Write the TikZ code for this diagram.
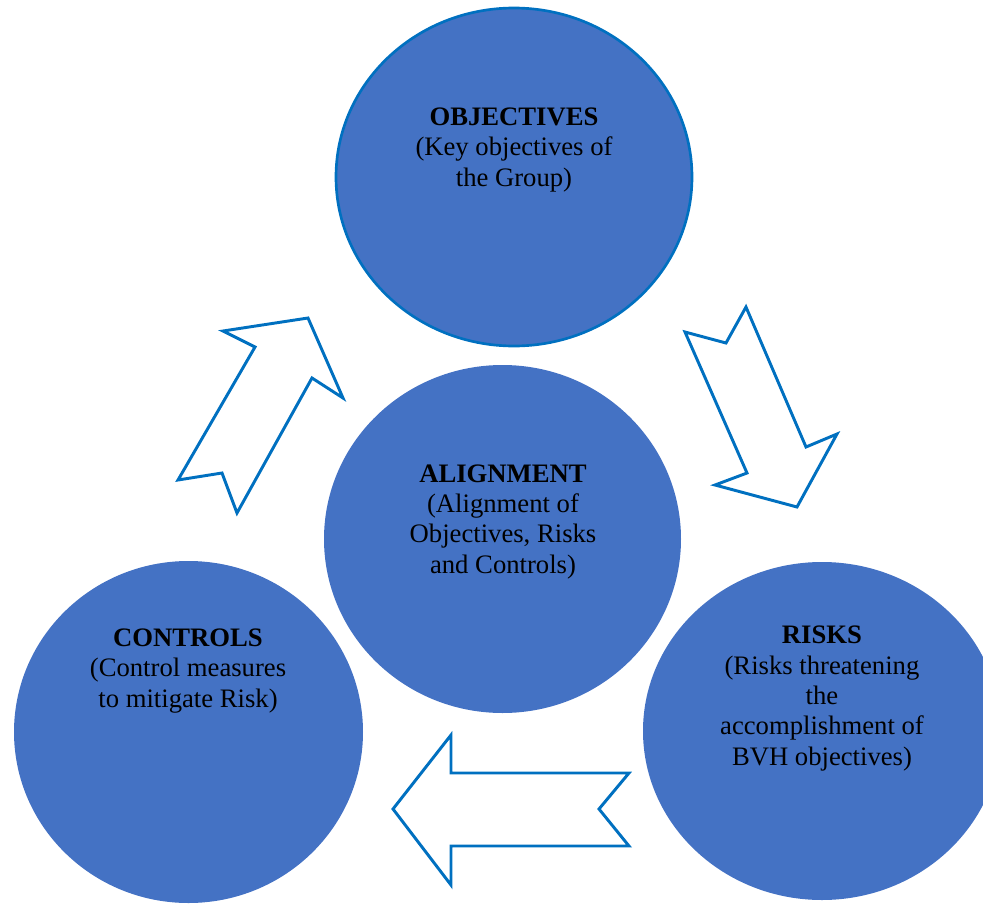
\documentclass[tikz,border=0pt]{standalone}
\usepackage{fontspec}
\setmainfont{Liberation Serif}
\usetikzlibrary{shapes.geometric}
\definecolor{circfill}{HTML}{4472C4}
\definecolor{arrline}{HTML}{0070C0}
\begin{document}
\begin{tikzpicture}[x=0.75pt,y=-0.75pt,
  bubble/.style={ellipse,fill=circfill,draw=none,inner sep=0pt},
  label text/.style={align=center,inner sep=0pt,anchor=base,
    font=\fontsize{20}{22.7}\selectfont},
  blockarrow/.style={draw=arrline,fill=white,line width=2.2pt,line join=miter}]
\useasboundingbox (0,0) rectangle (983,904);
\clip (0,0) rectangle (983,904);
% circles
\node[bubble,draw=arrline,line width=2pt,minimum width=356*0.75pt,minimum height=338*0.75pt] (obj) at (514,177) {};
\node[bubble,minimum width=357*0.75pt,minimum height=348*0.75pt] (ali) at (502.5,539) {};
\node[bubble,minimum width=358*0.75pt,minimum height=338*0.75pt] (risk) at (822,731) {};
\node[bubble,minimum width=349*0.75pt,minimum height=342*0.75pt] (ctrl) at (188.5,732) {};
% texts (anchor = baseline of last line)
\node[label text] (objt) at (514,186) {\textbf{OBJECTIVES}\\(Key objectives of\\the Group)};
\node[label text] (alit) at (503,573) {\textbf{ALIGNMENT}\\(Alignment of\\Objectives, Risks\\and Controls)};
\node[label text] (riskt) at (822,765) {\textbf{RISKS}\\(Risks threatening\\the\\accomplishment of\\BVH objectives)};
\node[label text] (ctrlt) at (188,707) {\textbf{CONTROLS}\\(Control measures\\to mitigate Risk)};
% block arrows
\draw[blockarrow] (178,480) -- (222,473) -- (237,513) -- (312,378) -- (343,398) -- (308,318) -- (223,331) -- (255,347) -- cycle;
\draw[blockarrow] (685,332) -- (726,343) -- (746,307) -- (806,447) -- (837,434) -- (797,507) -- (715,485) -- (747,473) -- cycle;
\draw[blockarrow] (393,809) -- (451,735) -- (451,773) -- (629,773) -- (599,809) -- (629,846) -- (451,846) -- (451,885) -- cycle;
\end{tikzpicture}
\end{document}
